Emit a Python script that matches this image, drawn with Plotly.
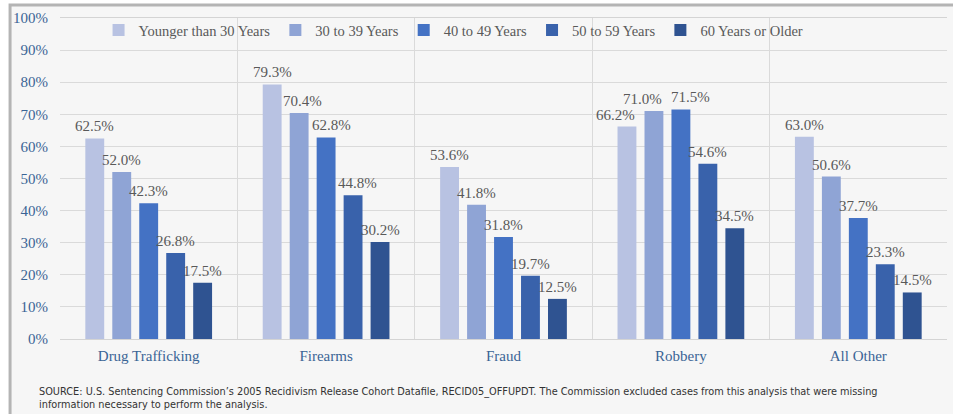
import plotly.graph_objects as go

categories = ["Drug Trafficking", "Firearms", "Fraud", "Robbery", "All Other"]
age_groups = ["Younger than 30 Years", "30 to 39 Years", "40 to 49 Years",
              "50 to 59 Years", "60 Years or Older"]
younger_30 = [62.5, 79.3, 53.6, 66.2, 63.0]
age_30_39 = [52.0, 70.4, 41.8, 71.0, 50.6]
age_40_49 = [42.3, 62.8, 31.8, 71.5, 37.7]
age_50_59 = [26.8, 44.8, 19.7, 54.6, 23.3]
age_60_up = [17.5, 30.2, 12.5, 34.5, 14.5]
y_ticks = [0, 10, 20, 30, 40, 50, 60, 70, 80, 90, 100]

series = [younger_30, age_30_39, age_40_49, age_50_59, age_60_up]
colors = ["#b8c2e2", "#8fa4d5", "#4472c4", "#3962ab", "#2f5391"]

serif = "Liberation Serif, Cambria, serif"
slot_px = 27  # spacing between bars inside a group, in pixels
# labels that were pulled sideways in the original so they don't collide
nudge = {("Robbery", 0): -11, ("Robbery", 1): -11, ("Robbery", 2): 10,
         ("Firearms", 2): 5, ("Firearms", 3): 4, ("Firearms", 1): 3}

fig = go.Figure()
for i, (name, vals, col) in enumerate(zip(age_groups, series, colors)):
    fig.add_trace(go.Bar(
        x=categories, y=vals, name=name,
        marker=dict(color=col, line=dict(width=0)),
    ))
    for cat, v in zip(categories, vals):
        fig.add_annotation(
            x=cat, y=v, text=f"{v:.1f}%", showarrow=False,
            xanchor="center", yanchor="bottom", yshift=2,
            xshift=(i - 2) * slot_px + nudge.get((cat, i), 0),
            font=dict(family=serif, size=15, color="#595959"),
        )

# outer frame of the original slide
fig.add_shape(type="rect", xref="paper", yref="paper",
              x0=-0.0563, x1=1.2, y0=-0.5, y1=1.0405,
              fillcolor="#f6f6f6", line=dict(color="#b4b4b4", width=3),
              layer="below")

fig.add_annotation(
    xref="paper", yref="paper", x=-0.026, y=-0.14, xanchor="left", yanchor="top",
    align="left", showarrow=False,
    text=("SOURCE: U.S. Sentencing Commission\u2019s 2005 Recidivism Release Cohort Datafile, "
          "RECID05_OFFUPDT. The Commission excluded cases from this analysis that were missing"
          "<br>information necessary to perform the analysis."),
    font=dict(family="DejaVu Sans, sans-serif", size=9.75, color="#333333"),
)

fig.update_layout(
    width=953, height=414,
    margin=dict(l=60, r=6, t=18, b=75, autoexpand=False),
    paper_bgcolor="white",
    plot_bgcolor="#e5e5e5",
    barmode="group",
    bargap=0.24,
    bargroupgap=0.30,
    showlegend=True,
    legend=dict(orientation="h", x=0.4437, xanchor="center", y=1.012, yanchor="top",
                font=dict(family=serif, size=14.5, color="#595959"),
                bgcolor="rgba(0,0,0,0)", itemwidth=30, traceorder="normal"),
    xaxis=dict(
        tickfont=dict(family=serif, size=15, color="#3a6495"),
        showgrid=True, gridcolor="#dadada", tickson="boundaries",
        ticks="", showline=True, linecolor="#d4d4d4", mirror=True,
        ticklabelstandoff=3,
    ),
    yaxis=dict(
        range=[0, 100], tickvals=y_ticks,
        ticktext=[f"{t}%" for t in y_ticks],
        tickfont=dict(family=serif, size=15, color="#3a6495"),
        showgrid=True, gridcolor="#dadada", zeroline=False,
        showline=False, ticks="", ticklabelstandoff=11,
    ),
)

fig.write_html("out.html", config={"displayModeBar": False},
               post_script="document.body.style.margin='0';")
